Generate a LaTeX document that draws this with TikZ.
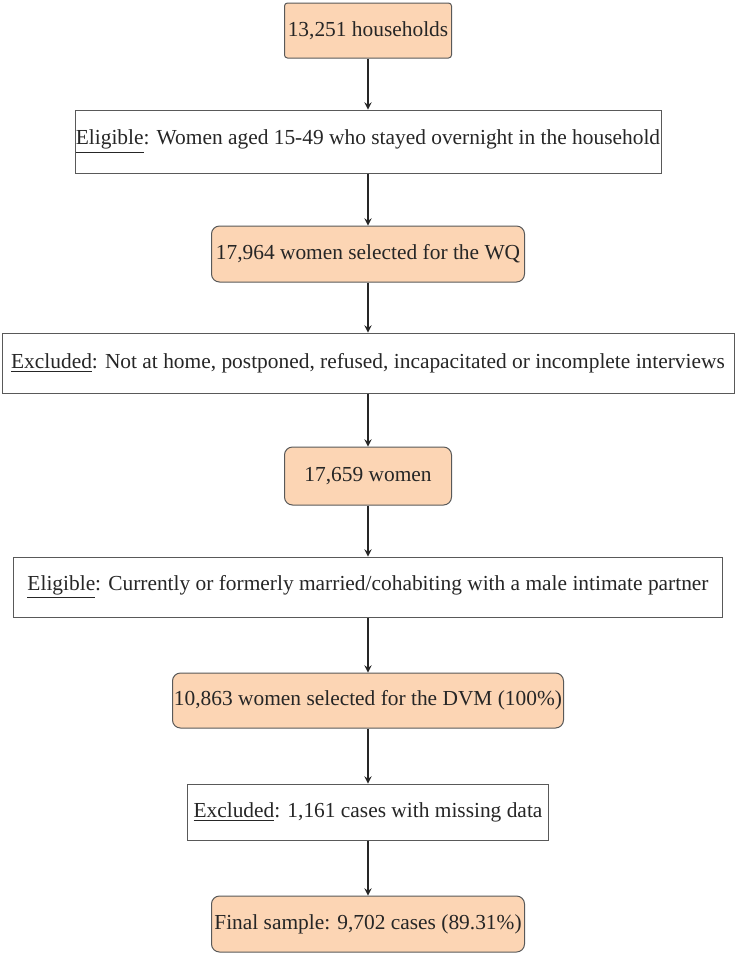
\documentclass[tikz,border=0pt]{standalone}
\usepackage{fontspec}
\setmainfont{Liberation Serif}
\usepackage{tikz}
\usepackage{xcolor}
\definecolor{peach}{HTML}{FCD5B4}
\definecolor{framegray}{HTML}{595959}
\definecolor{inkgray}{HTML}{262626}

\begin{document}
\begin{tikzpicture}[
  x=0.5pt, y=-0.5pt,
  font=\fontsize{10.7}{13}\selectfont,
  whitebox/.style={draw=framegray, line width=0.5pt, fill=white, text=inkgray, inner sep=0pt, align=center},
  peachbox/.style={whitebox, fill=peach, rounded corners=4pt},
  arrow/.style={->, >=stealth, draw=inkgray, line width=0.6pt}
]
\useasboundingbox (0,0) rectangle (736,955);

% Main boxes
\node[peachbox, rounded corners=1.5pt, minimum width=83.5pt, minimum height=27.5pt] (hh) at (368,30.5) {13,251 households};
\node[whitebox, minimum width=293pt, minimum height=31.5pt] (elig1) at (368,141.5) {\underline{Eligible}: Women aged 15-49 who stayed overnight in the household};
\node[peachbox, minimum width=156.5pt, minimum height=28pt] (selwq) at (368,254) {17,964 women selected for the WQ};
\node[whitebox, minimum width=366pt, minimum height=30pt] (excl1) at (368,363) {\underline{Excluded}: Not at home, postponed, refused, incapacitated or incomplete interviews};
\node[peachbox, minimum width=83.5pt, minimum height=29pt] (women) at (368,476) {17,659 women};
\node[whitebox, minimum width=354.5pt, minimum height=30pt] (elig2) at (368,587) {\underline{Eligible}: Currently or formerly married/cohabiting with a male intimate partner};
\node[peachbox, minimum width=195.5pt, minimum height=27.5pt] (seldvm) at (368,700.5) {10,863 women selected for the DVM (100\%)};
\node[whitebox, minimum width=180.5pt, minimum height=28pt] (excl2) at (368,812) {\underline{Excluded}: 1,161 cases with missing data};
\node[peachbox, minimum width=156.5pt, minimum height=28pt] (final) at (368,924) {Final sample: 9,702 cases (89.31\%)};

% Arrows
\draw[arrow] (hh) -- (elig1);
\draw[arrow] (elig1) -- (selwq);
\draw[arrow] (selwq) -- (excl1);
\draw[arrow] (excl1) -- (women);
\draw[arrow] (women) -- (elig2);
\draw[arrow] (elig2) -- (seldvm);
\draw[arrow] (seldvm) -- (excl2);
\draw[arrow] (excl2) -- (final);
\end{tikzpicture}
\end{document}
